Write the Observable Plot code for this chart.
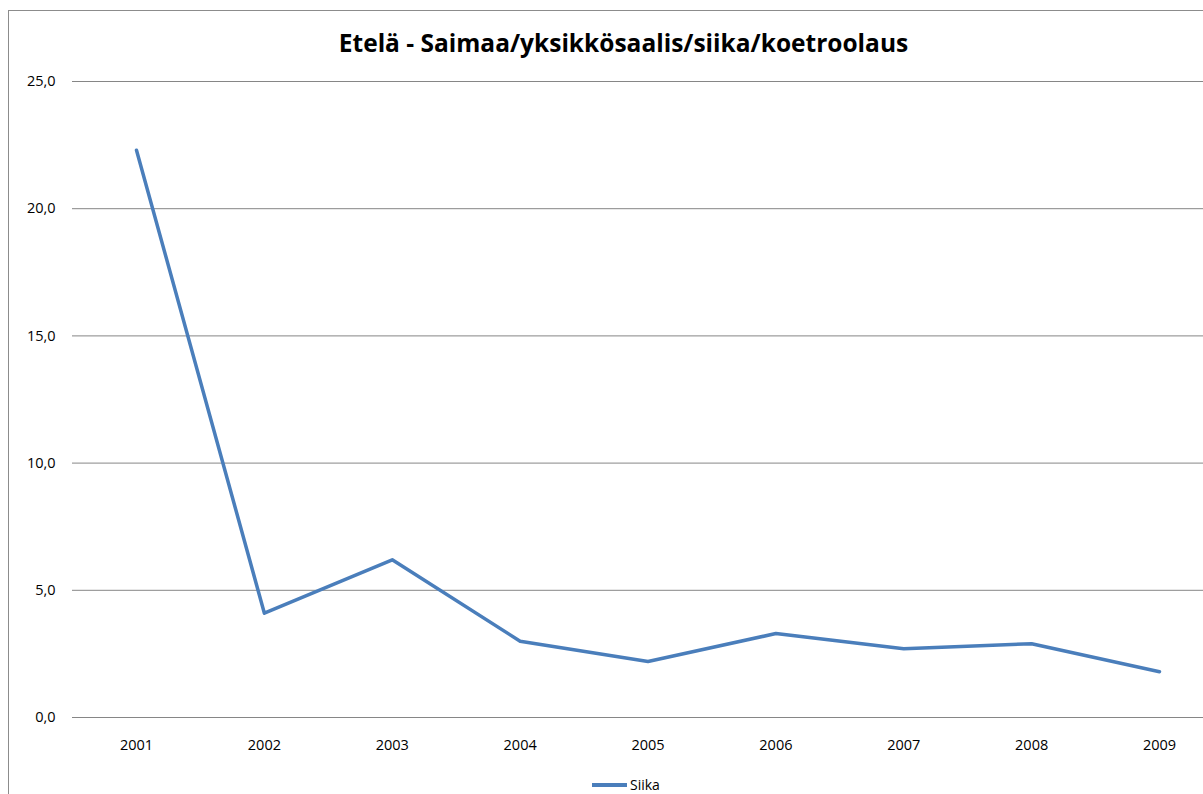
<!DOCTYPE html>
<html><head><meta charset="utf-8">
<script src="https://cdn.jsdelivr.net/npm/d3@7"></script>
<script src="https://cdn.jsdelivr.net/npm/@observablehq/plot@0.6"></script>
<style>
body{margin:0;width:1203px;height:794px;overflow:hidden;background:#fff;position:relative;font-family:"Open Sans",sans-serif;}
#frame{position:absolute;left:8px;top:10px;width:1400px;height:1000px;border:1.5px solid #8c8c8c;box-sizing:border-box;}
#title{position:absolute;left:0;width:1247px;top:31px;text-align:center;font:700 24.5px/1 "Open Sans",sans-serif;color:#000;}
#chart{position:absolute;left:0;top:0;}
#legend{position:absolute;left:592px;top:778px;font:14px/1 "Open Sans",sans-serif;display:flex;align-items:center;color:#000;}
#legend .sw{width:35px;height:3.5px;background:#4a7ebb;margin-right:3px;}
</style></head>
<body>
<div id="frame"></div>
<div id="title">Etelä - Saimaa/yksikkösaalis/siika/koetroolaus</div>
<div id="chart"></div>
<div id="legend"><span class="sw"></span><span>Siika</span></div>
<script>
const years = ["2001","2002","2003","2004","2005","2006","2007","2008","2009"];
const siika = [22.3, 4.1, 6.2, 3.0, 2.2, 3.3, 2.7, 2.9, 1.8];
const yTicks = [0, 5, 10, 15, 20, 25];
const seriesName = "Siika";

const data = years.map((y, i) => ({year: y, value: siika[i], series: seriesName}));
const fmt = d => d.toFixed(1).replace(".", ",");

const chart = Plot.plot({
  width: 1203,
  height: 794,
  marginLeft: 72,
  marginRight: 0,
  marginTop: 81,
  marginBottom: 77,
  style: {fontSize: "14.5px", fontFamily: "'Open Sans', sans-serif", color: "#000", background: "transparent", overflow: "visible"},
  x: {type: "point", domain: years, padding: 0, round: false, insetLeft: 64, insetRight: 44, label: null},
  y: {domain: [0, 25], label: null},
  marks: [
    Plot.gridY(yTicks, {stroke: "#868686", strokeOpacity: 1, strokeWidth: 1}),
    Plot.axisX({tickSize: 0, tickPadding: 22}),
    Plot.axisY(yTicks, {tickSize: 0, tickPadding: 17, tickFormat: fmt}),
    Plot.lineY(data, {x: "year", y: "value", stroke: "#4a7ebb", strokeWidth: 3.5, strokeLinejoin: "round"})
  ]
});
document.getElementById("chart").appendChild(chart);
</script>
</body></html>
